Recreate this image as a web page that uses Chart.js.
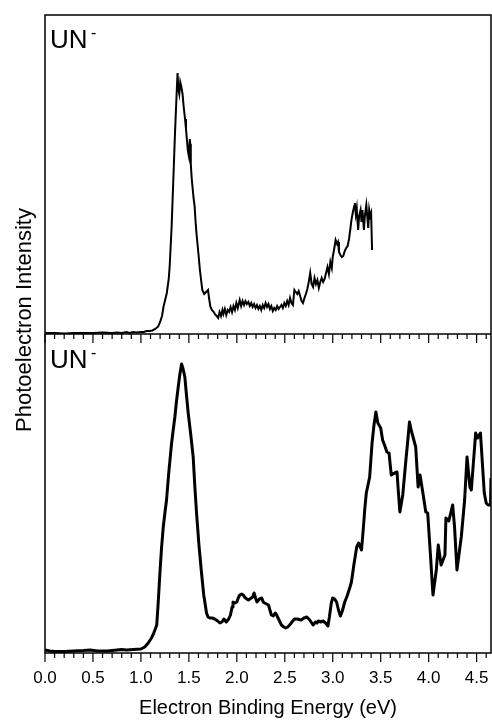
<!DOCTYPE html>
<html>
<head>
<meta charset="utf-8">
<script src="https://cdn.jsdelivr.net/npm/chart.js@4.4.0/dist/chart.umd.min.js"></script>
<style>
  body{margin:0; background:#fff;}
  canvas{display:block;}
</style>
</head>
<body>
<canvas id="spectrum" width="492" height="724"></canvas>
<script>
// x ticks (eV)
let xTicks = [0.0, 0.5, 1.0, 1.5, 2.0, 2.5, 3.0, 3.5, 4.0, 4.5];

// top panel: noisy low-energy scan
let topEnergy = [0.00,0.10,0.20,0.30,0.40,0.50,0.60,0.70,0.75,0.80,0.85,0.88,0.92,0.95,1.00,1.03,1.06,1.09,1.12,1.15,1.18,1.20,1.22,1.235,1.25,1.27,1.29,1.30,1.32,1.34,1.355,1.37,1.382,1.39,1.40,1.41,1.42,1.434,1.445,1.46,1.47,1.48,1.49,1.50,1.51,1.515,1.52,1.53,1.54,1.55,1.56,1.57,1.58,1.60,1.615,1.63,1.64,1.66,1.68,1.70,1.71,1.725,1.74,1.76,1.77,1.79,1.805,1.82,1.835,1.85,1.86,1.875,1.89,1.905,1.92,1.935,1.95,1.965,1.98,1.995,2.01,2.03,2.045,2.06,2.075,2.09,2.105,2.12,2.135,2.15,2.165,2.18,2.195,2.21,2.225,2.24,2.255,2.27,2.285,2.30,2.315,2.33,2.345,2.36,2.375,2.39,2.405,2.42,2.435,2.45,2.465,2.48,2.495,2.51,2.525,2.54,2.555,2.57,2.585,2.60,2.615,2.63,2.645,2.66,2.675,2.69,2.705,2.72,2.735,2.75,2.765,2.78,2.795,2.81,2.825,2.84,2.855,2.87,2.885,2.90,2.915,2.93,2.945,2.96,2.975,2.99,3.00,3.015,3.03,3.045,3.055,3.065,3.08,3.095,3.11,3.125,3.14,3.155,3.17,3.185,3.195,3.21,3.225,3.23,3.24,3.25,3.255,3.265,3.275,3.29,3.30,3.31,3.325,3.335,3.35,3.36,3.37,3.38,3.39,3.40,3.41];
let topIntensity = [1,1,0.5,1,1,1,1.5,1,1.5,1,2,1,2,1.5,2,2,3,3,3.5,5,7.5,12,18,27,33,41,55,68,107,160,200,235,261,245,240,252,248,240,228,215,205,194,183,178,195,190,170,155,145,135,128,112,100,80,64,52,44,40,42,44,36,27,24,22,20,18,16,22,18,24,20,25,19,24,22,27,22,28,24,31,26,34,28,33,29,33,30,32,28,31,27,30,26,29,25,28,24,29,26,31,27,30,25,28,23,26,24,28,25,27,29,26,31,28,33,29,36,31,29,44,42,40,43,38,33,31,36,40,45,52,61,50,47,56,50,54,46,52,56,52,55,61,67,60,72,66,77,85,94,90,92,82,79,77,78,83,86,88,95,106,114,122,128,131,120,126,117,104,118,124,112,124,104,118,129,118,106,124,118,121,84];

// bottom panel: higher photon energy scan
let botEnergy = [0.00,0.05,0.10,0.20,0.30,0.40,0.47,0.55,0.65,0.75,0.80,0.85,0.92,1.00,1.04,1.076,1.11,1.13,1.15,1.165,1.18,1.198,1.215,1.233,1.25,1.267,1.29,1.32,1.338,1.354,1.37,1.389,1.405,1.424,1.44,1.458,1.475,1.493,1.52,1.545,1.56,1.58,1.605,1.632,1.655,1.684,1.70,1.719,1.745,1.77,1.80,1.823,1.845,1.865,1.89,1.915,1.934,1.95,1.96,1.98,2.00,2.015,2.03,2.05,2.066,2.09,2.12,2.15,2.165,2.18,2.195,2.21,2.235,2.26,2.275,2.29,2.31,2.33,2.345,2.36,2.38,2.40,2.415,2.43,2.45,2.465,2.49,2.51,2.53,2.55,2.575,2.60,2.63,2.67,2.70,2.73,2.76,2.795,2.82,2.835,2.85,2.875,2.90,2.925,2.95,2.965,2.985,3.00,3.02,3.04,3.06,3.08,3.10,3.125,3.15,3.18,3.195,3.22,3.25,3.27,3.30,3.32,3.335,3.35,3.385,3.41,3.43,3.45,3.47,3.50,3.52,3.54,3.565,3.587,3.61,3.646,3.67,3.685,3.70,3.73,3.76,3.78,3.80,3.82,3.84,3.865,3.89,3.91,3.94,3.97,3.99,4.02,4.045,4.08,4.10,4.13,4.17,4.18,4.21,4.25,4.27,4.295,4.34,4.375,4.40,4.43,4.445,4.49,4.51,4.54,4.58,4.60,4.62,4.645,4.65];
let botIntensity = [3,2,1.5,1.5,2,2.5,3,2,2,3,3.5,3,3.5,4,6,10,15,19,24,28,50,80,105,126,140,153,180,210,224,236,251,266,278,289,284,276,258,240,218,196,170,140,108,80,58,40,36,35,35,34,32,30,31,34,31,34,38,46,51,50,51,55,58,59,58,55,53,55,56,60,55,51,54,55,51,50,49,48,43,38,37,40,38,35,31,28,26,25,26,28,31,34,34,33,35,36,33,28,31,30,32,31,32,30,27,36,50,55,54,51,43,37,42,51,57,66,71,88,106,110,103,126,145,160,176,210,228,241,230,225,213,208,201,200,178,180,181,160,141,158,190,210,231,222,215,206,166,178,160,141,140,96,58,83,108,88,98,135,132,148,126,83,116,153,196,166,163,220,215,220,160,150,148,148,175];

let fontFamily = "'Liberation Sans', Arial, sans-serif";

function toPoints(xs, ys){
    return xs.map((x, i)=>({x:x, y:ys[i]}));
}

// frame, divider, minor/major ticks, panel labels, y title
const framePlugin = {
    id: "frame",
    afterDraw(chart){
        let c = chart.ctx;
        let a = chart.chartArea;
        let xs = chart.scales.x;
        let mid = chart.scales.yTop.bottom;
        c.save();
        c.strokeStyle = "#000";
        c.lineWidth = 1.5;
        c.strokeRect(a.left, a.top, a.right - a.left, a.bottom - a.top);
        c.beginPath();
        c.moveTo(a.left, mid); c.lineTo(a.right, mid);
        c.stroke();

        c.lineWidth = 1.2;
        c.beginPath();
        for(let i=0; i<=46; i++){
            let px = xs.getPixelForValue(i/10);
            let len = (i % 5 === 0) ? 9 : 5;
            [mid, a.bottom].forEach(y=>{
                c.moveTo(px, y); c.lineTo(px, y + len);
            });
        }
        c.stroke();

        c.fillStyle = "#000";
        c.textBaseline = "alphabetic";
        c.textAlign = "left";
        [a.top + 33, mid + 34].forEach(base=>{
            c.font = "26px " + fontFamily;
            c.fillText("UN", a.left + 5, base);
            c.font = "16px " + fontFamily;
            c.fillText("-", a.left + 46, base - 10);
        });

        c.translate(31, 320);
        c.rotate(-Math.PI/2);
        c.textAlign = "center";
        c.font = "22px " + fontFamily;
        c.fillText("Photoelectron Intensity", 0, 0);
        c.restore();
    }
};

const panelAxis = {
    type: "linear",
    position: "left",
    stack: "panels",
    stackWeight: 1,
    min: 0,
    max: 319,
    grid: {display:false, drawTicks:false},
    border: {display:false},
    ticks: {display:false},
    afterFit: s=>{ s.width = 0; }
};

const ctx = document.getElementById("spectrum").getContext("2d");
new Chart(ctx, {
    type: "line",
    data: {
        datasets: [
            {data: toPoints(topEnergy, topIntensity), yAxisID: "yTop", borderColor: "#000", borderWidth: 2, pointRadius: 0, tension: 0, fill: false},
            {data: toPoints(botEnergy, botIntensity), yAxisID: "yBot", borderColor: "#000", borderWidth: 3, pointRadius: 0, tension: 0, fill: false, borderJoinStyle: "round"}
        ]
    },
    options: {
        responsive: false,
        animation: false,
        layout: {padding: {left: 45, right: 1, top: 15, bottom: 0}},
        plugins: {legend: {display: false}, tooltip: {enabled: false}},
        scales: {
            x: {
                type: "linear",
                min: 0,
                max: 4.65,
                grid: {display: false, drawTicks: false},
                border: {display: false},
                afterBuildTicks: s=>{ s.ticks = xTicks.map(v=>({value: v})); },
                afterFit: s=>{ s.height = 71; s.paddingLeft = 0; s.paddingRight = 0; },
                ticks: {
                    padding: 15,
                    color: "#000",
                    autoSkip: false,
                    maxRotation: 0,
                    font: {family: fontFamily, size: 17},
                    callback: v=>Number(v).toFixed(1)
                },
                title: {
                    display: true,
                    text: "Electron Binding Energy (eV)",
                    color: "#000",
                    font: {family: fontFamily, size: 20},
                    padding: {top: 0, bottom: 4}
                }
            },
            // stacked left axes are placed last-defined first, so bottom panel goes first here
            yBot: Object.assign({}, panelAxis),
            yTop: Object.assign({}, panelAxis)
        }
    },
    plugins: [framePlugin]
});
</script>
</body>
</html>
